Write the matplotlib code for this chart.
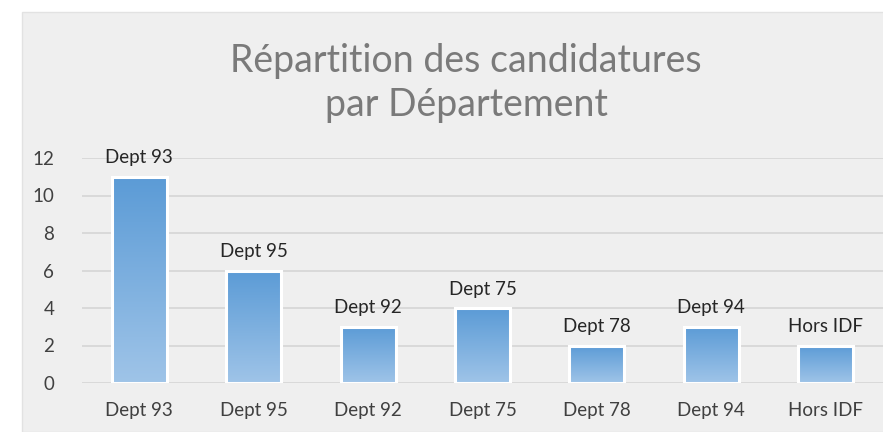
import matplotlib
matplotlib.use("Agg")
import matplotlib.pyplot as plt
import numpy as np
from matplotlib.patches import Rectangle
from matplotlib.colors import LinearSegmentedColormap

# chart data
departements = ["Dept 93", "Dept 95", "Dept 92", "Dept 75", "Dept 78", "Dept 94", "Hors IDF"]
candidatures = [11, 6, 3, 4, 2, 3, 2]
yticks = [0, 2, 4, 6, 8, 10, 12]

plt.rcParams['font.family'] = ['Lato', 'DejaVu Sans']

fig = plt.figure(figsize=(8.83, 4.32), dpi=100)
fig.patch.set_facecolor("white")

# light grey chart background (offset like the screenshot)
bg = Rectangle((22/883, 0), 1, (432-12)/432, transform=fig.transFigure,
               facecolor="#efefef", edgecolor="#e2e2e2", lw=1, zorder=-5)
fig.add_artist(bg)

ax = fig.add_axes([82/883, 49/432, 1 - 82/883, 225/432])
ax.set_facecolor("none")

x = np.arange(len(departements))
bars = ax.bar(x, candidatures, width=0.48, color="none", edgecolor="white", linewidth=2.2, zorder=3)

# vertical gradient inside each bar
cmap = LinearSegmentedColormap.from_list("grad", ["#9fc4e8", "#5b9bd6"])
grad = np.linspace(0, 1, 256).reshape(-1, 1)
for i, b in enumerate(bars):
    x0, w, h = b.get_x(), b.get_width(), b.get_height()
    im = ax.imshow(grad, extent=(x0, x0 + w, 0, h), origin="lower", cmap=cmap,
                   aspect="auto", zorder=2)
    im.set_clip_path(b)
    ax.text(x0 + w/2, h + 0.55, departements[i], ha="center", va="bottom",
            fontsize=13.5, color="#262626", zorder=4)

ax.set_xlim(-0.5, len(departements) - 0.5)
ax.set_ylim(0, 12)
ax.set_yticks(yticks)
ax.set_xticks(x)
ax.set_xticklabels(departements)
ax.tick_params(axis="both", length=0, labelsize=13.5, colors="#404040")
ax.tick_params(axis="x", pad=14)
ax.tick_params(axis="y", pad=20)
ax.grid(axis="y", color="#d9d9d9", linewidth=1.4, zorder=0)
ax.set_axisbelow(True)
for s in ax.spines.values():
    s.set_visible(False)

fig.text(466/883, 1 - 83/432, "Répartition des candidatures\npar Département",
         ha="center", va="center", fontsize=27, color="#7a7a7a", linespacing=1.27)

fig.savefig("out.png", dpi=100)
